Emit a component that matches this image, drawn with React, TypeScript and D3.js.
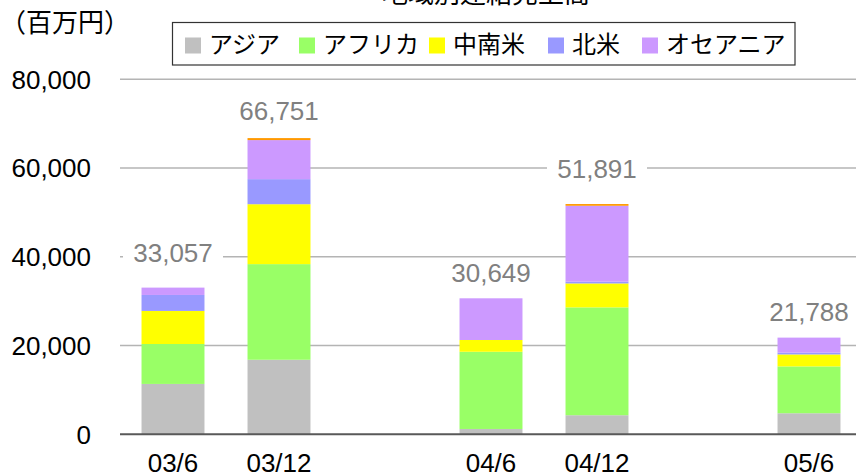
import React from "react";
import * as d3 from "d3";

const categories = ["03/6", "03/12", "", "04/6", "04/12", "", "05/6"];
const seriesNames = ["アジア", "アフリカ", "中南米", "北米", "オセアニア", "その他"];
const asia = [11350, 16800, null, 1200, 4300, null, 4750];
const africa = [9000, 21550, null, 17400, 24300, null, 10550];
const latinAmerica = [7450, 13500, null, 2650, 5400, null, 2700];
const northAmerica = [3600, 5650, null, 0, 400, null, 400];
const oceania = [1657, 8800, null, 9399, 17100, null, 3388];
const other = [0, 451, null, 0, 391, null, 0];
const totals = [33057, 66751, null, 30649, 51891, null, 21788];
const yTicks = [0, 20000, 40000, 60000, 80000];
const labelLift = [26, 18, 0, 16, 26, 0, 17];

const colors = ["#c0c0c0", "#99ff66", "#ffff00", "#9999ff", "#cc99ff", "#ff9900"];
const legendX = [185, 299, 429, 548, 642];
const FONT = "'Liberation Sans', Arial, 'Noto Sans CJK JP', sans-serif";

export default function App() {
  const W = 856, H = 476;
  const series = [asia, africa, latinAmerica, northAmerica, oceania, other];
  const x = d3.scaleBand<number>().domain(d3.range(categories.length)).range([120, 862]).paddingInner(0.406).paddingOuter(0.203);
  const y = d3.scaleLinear().domain([0, 80000]).range([434.3, 79.3]);
  const fmt = d3.format(",");

  const rects: React.ReactNode[] = [];
  categories.forEach((c, i) => {
    if (totals[i] == null) return;
    let acc = 0;
    series.forEach((s, k) => {
      const v = s[i] ?? 0;
      if (v <= 0) { return; }
      const y0 = y(acc), y1 = y(acc + v);
      rects.push(<rect key={`${i}-${k}`} x={x(i)} y={y1} width={x.bandwidth()} height={y0 - y1} fill={colors[k]} />);
      acc += v;
    });
  });

  return (
    <svg width={W} height={H} style={{ position: "fixed", left: 0, top: 0, background: "#fff" }} fontFamily={FONT}>
      <rect width={W} height={H} fill="#fff" />
      <text x={486} y={3} fontSize={26} textAnchor="middle" fill="#000">地域別連結売上高</text>
      <text x={0} y={32} fontSize={26} fill="#000">（百万円）</text>
      {yTicks.map((t) => (
        <g key={t}>
          {t > 0 && <line x1={120} x2={W} y1={y(t)} y2={y(t)} stroke="#b4b4b4" strokeWidth={1.5} />}
          <text x={91} y={y(t)} dy="0.36em" fontSize={26} textAnchor="end" fill="#000">{fmt(t)}</text>
        </g>
      ))}
      {rects}
      <line x1={120} x2={W} y1={y(0)} y2={y(0)} stroke="#595959" strokeWidth={2} />
      {categories.map((c, i) => c ? (
        <text key={i} x={(x(i) ?? 0) + x.bandwidth() / 2} y={472} fontSize={26} textAnchor="middle" fill="#000">{c}</text>
      ) : null)}
      {totals.map((t, i) => {
        if (t == null) return null;
        const cx = (x(i) ?? 0) + x.bandwidth() / 2;
        const by = y(t) - labelLift[i];
        return (
          <g key={i}>
            <rect x={cx - 50} y={by - 24} width={100} height={30} fill="#fff" />
            <text x={cx} y={by} fontSize={26} textAnchor="middle" fill="#808080">{fmt(t)}</text>
          </g>
        );
      })}
      <rect x={172.5} y={22.5} width={622.5} height={42.5} fill="#fff" stroke="#333" strokeWidth={1.2} />
      {legendX.map((lx, k) => (
        <g key={k}>
          <rect x={lx} y={37.5} width={16} height={16} fill={colors[k]} />
          <text x={lx + 24} y={53} fontSize={24} fill="#000">{seriesNames[k]}</text>
        </g>
      ))}
    </svg>
  );
}
